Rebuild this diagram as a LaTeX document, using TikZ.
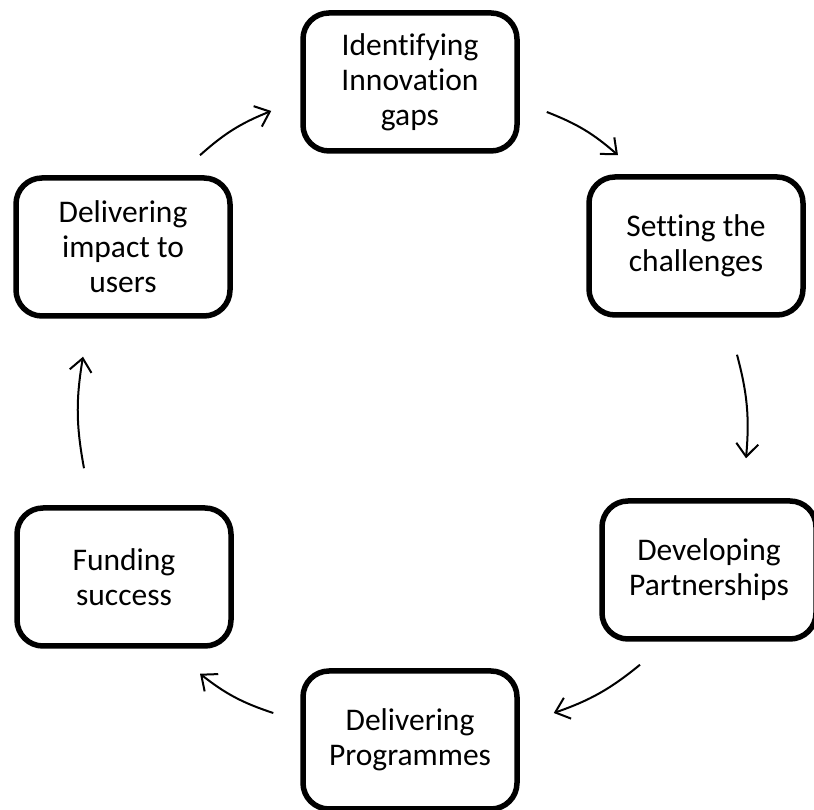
\documentclass[tikz,border=0pt]{standalone}
\usepackage{fontspec}
\setmainfont{Carlito}[Ligatures=NoCommon]
\usetikzlibrary{arrows.meta}

\begin{document}
\begin{tikzpicture}[x=1pt, y=1pt,
		stage/.style={draw, line width=5.5pt, rounded corners=26pt, minimum width=214pt, minimum height=138pt, align=center, font=\fontsize{31.5}{35}\selectfont},
		cyc/.style={line width=2pt, -{Straight Barb[length=13pt, width=22pt, line width=2pt]}}]
		\fill[white] (0, 0) rectangle (814, 810);
		\useasboundingbox (0, 0) rectangle (814, 810);
		
		\node[stage] (ident) at (410, 728) {Identifying\\Innovation\\gaps};
		\node[stage] (setting) at (696, 564) {Setting the\\challenges};
		\node[stage] (partner) at (709, 240) {Developing\\Partnerships};
		\node[stage] (programmes) at (410, 70) {Delivering\\Programmes};
		\node[stage] (funding) at (124, 233) {Funding\\success};
		\node[stage] (impact) at (123, 563) {Delivering\\impact to\\users};
		
		\draw[cyc] ([shift={(77, 20)}]impact.north) to[bend left=10] ([shift={(-29, -29)}]ident.west);
		\draw[cyc] ([shift={(27, -30)}]ident.east) to[bend left=10] ([shift={(-78, 19)}]setting.north);
		\draw[cyc] ([shift={(41, -37)}]setting.south) to[bend left=10] ([shift={(37, 40)}]partner.north);
		\draw[cyc] ([shift={(-69, -23)}]partner.south) to[bend left=10] ([shift={(34, 27)}]programmes.east);
		\draw[cyc] ([shift={(-27, 27)}]programmes.west) to[bend left=10] ([shift={(76, -25)}]funding.south);
		\draw[cyc] ([shift={(-40, 37)}]funding.north) to[bend left=10] ([shift={(-40, -38)}]impact.south);
	\end{tikzpicture}
\end{document}
